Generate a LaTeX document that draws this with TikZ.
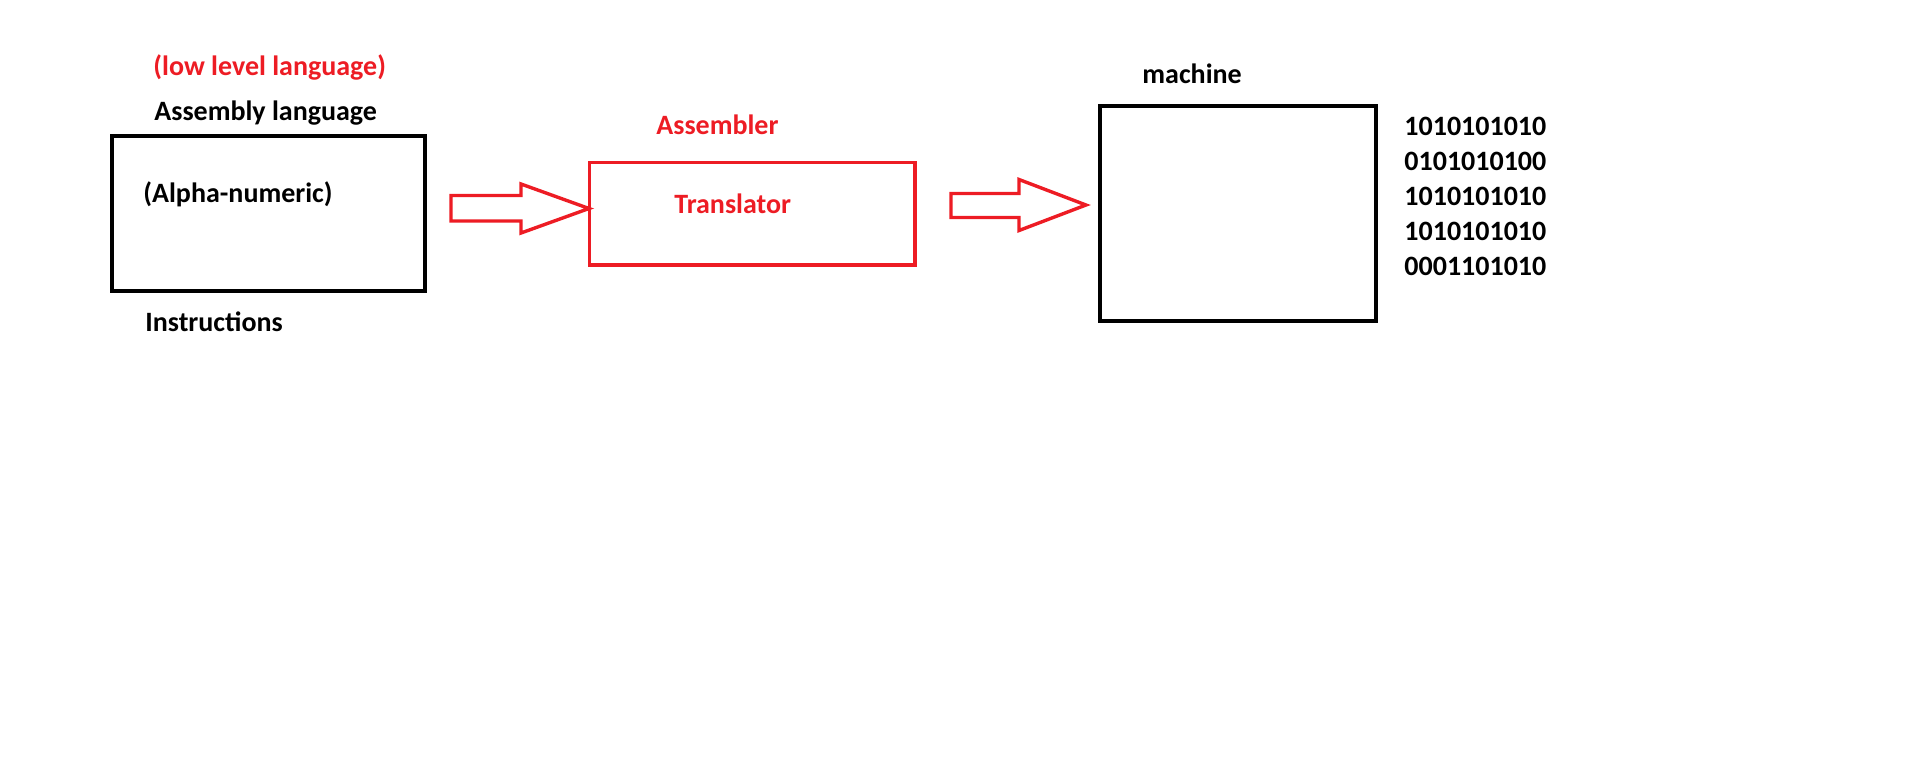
\documentclass[tikz,border=0pt]{standalone}
\usepackage{fontspec}
\setmainfont{Carlito}
\usepackage{tikz}
\usetikzlibrary{positioning,arrows.meta,calc}
\definecolor{paintred}{HTML}{ED1C24}

\begin{document}
\begin{tikzpicture}[
    x=0.5pt, y=-0.5pt,
    blackbox/.style={draw, line width=2pt, inner sep=0pt, outer sep=0pt},
    redbox/.style={draw=paintred, line width=1.75pt, inner sep=0pt, outer sep=0pt},
    label/.style={inner sep=0pt, anchor=base west, font=\bfseries\fontsize{14}{17.5}\selectfont},
    redlabel/.style={label, text=paintred},
    redarrow/.style={draw=paintred, line width=1.7pt, line join=miter},
  ]
    \useasboundingbox (0,0) rectangle (1910,772);
    % boxes
    \node[blackbox, minimum width=156.5pt, minimum height=77.5pt] (asm) at (268.5,213.5) {};
    \node[redbox, minimum width=162.75pt, minimum height=51.25pt, right=82.2pt of asm] (trans) {};
    \node[blackbox, minimum width=138pt, minimum height=107.5pt, right=92.4pt of trans] (mach) {};
    % texts
    \node[redlabel] (low) at (153,75) {(low level language)};
    \node[label] (asmlang) at (154,120.7) {Assembly language};
    \node[label] (alpha) at (143,202.7) {(Alpha-numeric)};
    \node[label] (instr) at (145,331) {Instructions};
    \node[redlabel] (assembler) at (656,134) {Assembler};
    \node[redlabel] (translator) at (674,213) {Translator};
    \node[label] (machine) at (1142,83.3) {machine};
    \node[label, anchor=north west, align=left] (bits) at (1404,117) {1010101010\\0101010100\\1010101010\\1010101010\\0001101010};
    % block arrows
    \coordinate (a1s) at (451,208);
    \coordinate (a1t) at (589,208.5);
    \draw[redarrow] (a1s) ++(0,-12.5) -- ++(70,0) -- ++(0,-11.5) -- (a1t) -- ++(-68,24.5) -- ++(0,-12) -- ++(-70,0) -- cycle;
    \coordinate (a2s) at (951,205.5);
    \coordinate (a2t) at (1086,205);
    \draw[redarrow] (a2s) ++(0,-12) -- ++(68,0) -- ++(0,-14) -- (a2t) -- ++(-67,25.5) -- ++(0,-13) -- ++(-68,0) -- cycle;
  \end{tikzpicture}
\end{document}
